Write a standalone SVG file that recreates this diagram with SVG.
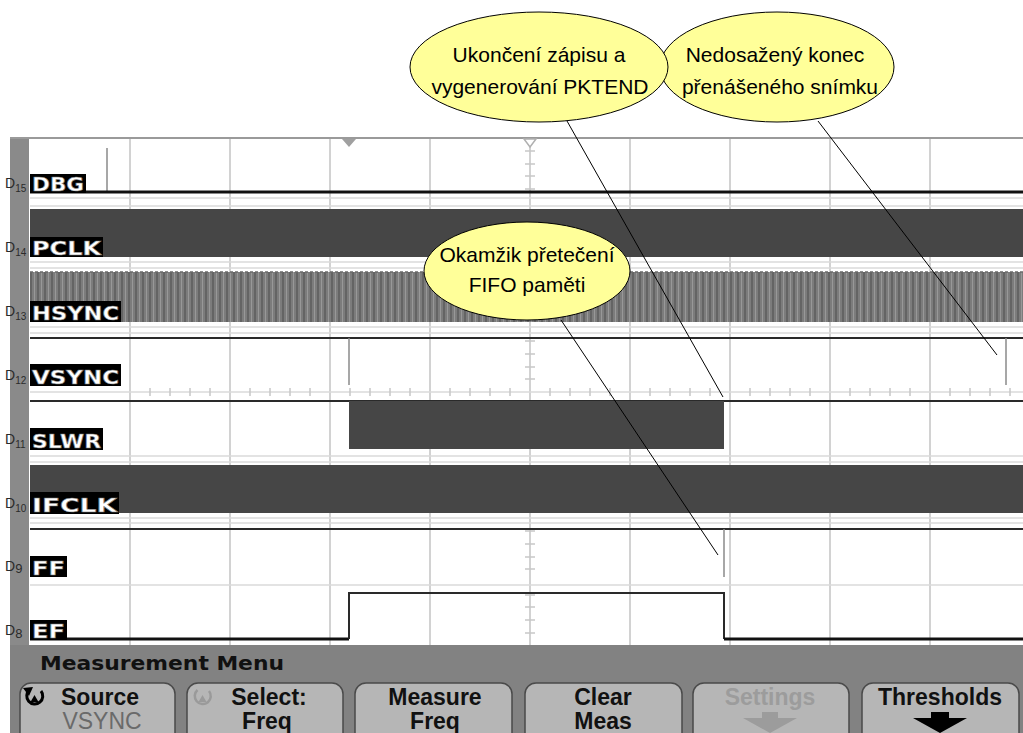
<svg xmlns="http://www.w3.org/2000/svg" width="1023" height="733" viewBox="0 0 1023 733">
  <style>
    .grid { stroke: #d2d2d2; stroke-width: 2; fill: none; }
    .hgrid { stroke: #dadada; stroke-width: 1.5; fill: none; }
    .tick { stroke: #c8c8c8; stroke-width: 1.5; }
    .trace { stroke: #2a2a2a; stroke-width: 2; fill: none; }
    .edge { stroke: #8a8a8a; stroke-width: 1.5; fill: none; }
    .busy { fill: #464646; }
    .lblbox { fill: #000; }
    .lbl { font-family: "DejaVu Sans", sans-serif; font-weight: bold; font-size: 19px; fill: #fff; stroke: #777; stroke-width: 0.6; }
    .dnum { font-family: "Liberation Sans", Arial, sans-serif; fill: #2a2a2a; }
    .btn { fill: #b6b6b6; stroke: #4a4a4a; stroke-width: 1.5; }
    .btxt { font-family: "Liberation Sans", Arial, sans-serif; font-weight: bold; font-size: 23px; fill: #111; text-anchor: middle; }
    .bsub { font-family: "Liberation Sans", Arial, sans-serif; font-size: 23px; fill: #6a6a6a; text-anchor: middle; }
    .bubble { fill: #ffff99; stroke: #000; stroke-width: 1; }
    .btext { font-family: "Liberation Sans", Arial, sans-serif; font-size: 21px; fill: #000; text-anchor: middle; }
    .lead { stroke: #000; stroke-width: 1; fill: none; }
  </style>
  <defs>
    <pattern id="hsync" patternUnits="userSpaceOnUse" x="30" y="272" width="7" height="50">
      <rect width="7" height="50" fill="#7c7c7c"/>
      <line x1="1" y1="0" x2="1" y2="50" stroke="#5c5c5c" stroke-width="1.5"/>
      <line x1="4.5" y1="0" x2="4.5" y2="50" stroke="#989898" stroke-width="1"/>
    </pattern>
  </defs>

  <!-- page -->
  <rect width="1023" height="733" fill="#fff"/>

  <!-- scope screen -->
  <g id="screen">
    <rect x="30" y="138" width="993" height="507" fill="#fff"/>
    <rect x="10" y="138" width="19" height="507" fill="#8a8a8a"/>
    <line x1="10" y1="138" x2="1023" y2="138" stroke="#9a9a9a" stroke-width="2"/>

    <!-- graticule -->
    <g id="graticule">
      <path class="grid" d="M130 139V645M230 139V645M330 139V645M430 139V645M530 139V645M630 139V645M730 139V645M830 139V645M930 139V645"/>
      <path class="hgrid" d="M30 198H1023M30 206H1023M30 262H1023M30 268H1023M30 327H1023M30 333H1023M30 392H1023M30 456H1023M30 462H1023M30 518H1023M30 523H1023M30 585H1023"/>
      <!-- horizontal axis minor ticks -->
      <path class="tick" d="M150 388v8M170 388v8M190 388v8M210 388v8M250 388v8M270 388v8M290 388v8M310 388v8M350 388v8M370 388v8M390 388v8M410 388v8M450 388v8M470 388v8M490 388v8M510 388v8M550 388v8M570 388v8M590 388v8M610 388v8M650 388v8M670 388v8M690 388v8M710 388v8M750 388v8M770 388v8M790 388v8M810 388v8M850 388v8M870 388v8M890 388v8M910 388v8M950 388v8M970 388v8M990 388v8M1010 388v8"/>
      <!-- vertical axis minor ticks -->
      <path class="tick" d="M525 151h10M525 164h10M525 176h10M525 189h10M525 214h10M525 227h10M525 240h10M525 252h10M525 278h10M525 290h10M525 303h10M525 316h10M525 341h10M525 354h10M525 367h10M525 379h10M525 405h10M525 417h10M525 430h10M525 443h10M525 468h10M525 481h10M525 493h10M525 506h10M525 531h10M525 544h10M525 557h10M525 569h10M525 595h10M525 607h10M525 620h10M525 633h10"/>
    </g>

    <!-- trigger and centre markers -->
    <polygon points="342,139 356,139 349,147" fill="#a0a0a0"/>
    <path d="M524 139 L536 139 L530 147 Z" fill="#fff" stroke="#b0b0b0" stroke-width="1.5"/>
  </g>

  <!-- channel traces -->
  <g id="ch-dbg">
    <line x1="107" y1="148" x2="107" y2="192" class="edge"/>
    <line x1="30" y1="192" x2="1023" y2="192" stroke="#111" stroke-width="3"/>
  </g>
  <g id="ch-pclk">
    <rect class="busy" x="30" y="209" width="993" height="48"/>
  </g>
  <g id="ch-hsync">
    <rect x="30" y="272" width="993" height="50" fill="url(#hsync)"/>
    <line x1="30" y1="272" x2="1023" y2="272" stroke="#6a6a6a" stroke-width="1.5" stroke-dasharray="3 2"/>
  </g>
  <g id="ch-vsync">
    <line x1="30" y1="338" x2="1023" y2="338" class="trace"/>
    <line x1="349" y1="338" x2="349" y2="385" class="edge"/>
    <line x1="1006" y1="338" x2="1006" y2="385" class="edge"/>
  </g>
  <g id="ch-slwr">
    <line x1="30" y1="401" x2="1023" y2="401" class="trace"/>
    <rect class="busy" x="349" y="401" width="375" height="48"/>
  </g>
  <g id="ch-ifclk">
    <rect class="busy" x="30" y="465" width="993" height="48"/>
  </g>
  <g id="ch-ff">
    <line x1="30" y1="529" x2="1023" y2="529" class="trace"/>
    <line x1="724" y1="529" x2="724" y2="577" class="edge"/>
  </g>
  <g id="ch-ef">
    <path d="M30 639H349" stroke="#111" stroke-width="3" fill="none"/>
    <path d="M349 639V593H724V639" class="trace" stroke-width="1.8"/>
    <path d="M724 639H1023" stroke="#111" stroke-width="3" fill="none"/>
  </g>

  <!-- channel labels -->
  <g id="labels">
    <rect class="lblbox" x="30" y="174" width="56" height="19"/>
    <text class="lbl" x="32" y="191" textLength="52" lengthAdjust="spacingAndGlyphs">DBG</text>
    <rect class="lblbox" x="30" y="237" width="73" height="20"/>
    <text class="lbl" x="32" y="255" textLength="69" lengthAdjust="spacingAndGlyphs">PCLK</text>
    <rect class="lblbox" x="30" y="301" width="91" height="21"/>
    <text class="lbl" x="32" y="320" textLength="87" lengthAdjust="spacingAndGlyphs">HSYNC</text>
    <rect class="lblbox" x="30" y="364" width="91" height="22"/>
    <text class="lbl" x="32" y="384" textLength="87" lengthAdjust="spacingAndGlyphs">VSYNC</text>
    <rect class="lblbox" x="30" y="428" width="73" height="22"/>
    <text class="lbl" x="32" y="448" textLength="69" lengthAdjust="spacingAndGlyphs">SLWR</text>
    <rect class="lblbox" x="30" y="492" width="89" height="22"/>
    <text class="lbl" x="32" y="512" textLength="85" lengthAdjust="spacingAndGlyphs">IFCLK</text>
    <rect class="lblbox" x="30" y="556" width="37" height="21"/>
    <text class="lbl" x="32" y="575" textLength="33" lengthAdjust="spacingAndGlyphs">FF</text>
    <rect class="lblbox" x="30" y="620" width="37" height="20"/>
    <text class="lbl" x="32" y="638" textLength="33" lengthAdjust="spacingAndGlyphs">EF</text>

    <text class="dnum" x="5" y="188" font-size="14">D<tspan font-size="10" dy="4">15</tspan></text>
    <text class="dnum" x="5" y="252" font-size="14">D<tspan font-size="10" dy="4">14</tspan></text>
    <text class="dnum" x="5" y="316" font-size="14">D<tspan font-size="10" dy="4">13</tspan></text>
    <text class="dnum" x="5" y="380" font-size="14">D<tspan font-size="10" dy="4">12</tspan></text>
    <text class="dnum" x="5" y="444" font-size="14">D<tspan font-size="10" dy="4">11</tspan></text>
    <text class="dnum" x="5" y="508" font-size="14" fill="#bbb">D<tspan font-size="10" dy="4">10</tspan></text>
    <text class="dnum" x="5" y="571" font-size="14">D<tspan font-size="13" dy="2">9</tspan></text>
    <text class="dnum" x="5" y="635" font-size="14">D<tspan font-size="13" dy="3">8</tspan></text>
  </g>

  <!-- softkey menu -->
  <g id="menu">
    <rect x="10" y="645" width="1013" height="88" fill="#828282"/>
    <text x="40" y="670" font-family="DejaVu Sans, sans-serif" font-weight="bold" font-size="20" fill="#111" textLength="244" lengthAdjust="spacingAndGlyphs">Measurement  Menu</text>

    <g id="btn-source">
      <rect class="btn" x="20" y="683" width="155" height="70" rx="11"/>
      <path d="M29.5 690 A8 8 0 1 0 41 691" fill="none" stroke="#000" stroke-width="3"/>
      <polygon points="23,688 33,687 29,696" fill="#000"/>
      <polygon points="30.5,702 38.5,702 34.5,695" fill="#000"/>
      <text class="btxt" x="100" y="705">Source</text>
      <text class="bsub" x="102" y="729">VSYNC</text>
    </g>
    <g id="btn-select">
      <rect class="btn" x="187" y="683" width="156" height="70" rx="11"/>
      <path d="M197.5 690 A8 8 0 1 0 209 691" fill="none" stroke="#9a9a9a" stroke-width="2.5"/>
      <polygon points="198.5,702 206.5,702 202.5,695" fill="#9a9a9a"/>
      <text class="btxt" x="269" y="705">Select:</text>
      <text class="btxt" x="267" y="729">Freq</text>
    </g>
    <g id="btn-measure">
      <rect class="btn" x="355" y="683" width="157" height="70" rx="11"/>
      <text class="btxt" x="435" y="705">Measure</text>
      <text class="btxt" x="435" y="729">Freq</text>
    </g>
    <g id="btn-clear">
      <rect class="btn" x="525" y="683" width="157" height="70" rx="11"/>
      <text class="btxt" x="603" y="705">Clear</text>
      <text class="btxt" x="603" y="729">Meas</text>
    </g>
    <g id="btn-settings">
      <rect class="btn" x="693" y="683" width="156" height="70" rx="11"/>
      <text class="btxt" x="770" y="705" style="fill:#9c9c9c">Settings</text>
      <polygon points="762,712 778,712 778,718 797,718 770,733 743,718 762,718" fill="#9c9c9c"/>
    </g>
    <g id="btn-thresholds">
      <rect class="btn" x="862" y="683" width="157" height="70" rx="11"/>
      <text class="btxt" x="940" y="705">Thresholds</text>
      <polygon points="931,712 949,712 949,718 967,718 940,733 913,718 931,718" fill="#000"/>
    </g>
  </g>

  <!-- callout leaders -->
  <g id="connectors">
    <line class="lead" x1="567" y1="121" x2="723" y2="397"/>
    <line class="lead" x1="818" y1="121" x2="997" y2="355"/>
    <line class="lead" x1="561" y1="320" x2="718" y2="555"/>
  </g>

  <!-- callouts -->
  <g id="note-frame-end">
    <ellipse class="bubble" cx="777" cy="67" rx="117" ry="55"/>
    <text class="btext" x="775" y="62">Nedosažený konec</text>
    <text class="btext" x="780" y="94">přenášeného snímku</text>
  </g>
  <g id="note-pktend">
    <ellipse class="bubble" cx="539" cy="67" rx="129" ry="55"/>
    <text class="btext" x="539" y="62">Ukončení zápisu a</text>
    <text class="btext" x="540" y="94">vygenerování PKTEND</text>
  </g>
  <g id="note-overflow">
    <ellipse class="bubble" cx="527" cy="271" rx="103" ry="49"/>
    <text class="btext" x="527" y="262">Okamžik přetečení</text>
    <text class="btext" x="527" y="292">FIFO paměti</text>
  </g>
</svg>
